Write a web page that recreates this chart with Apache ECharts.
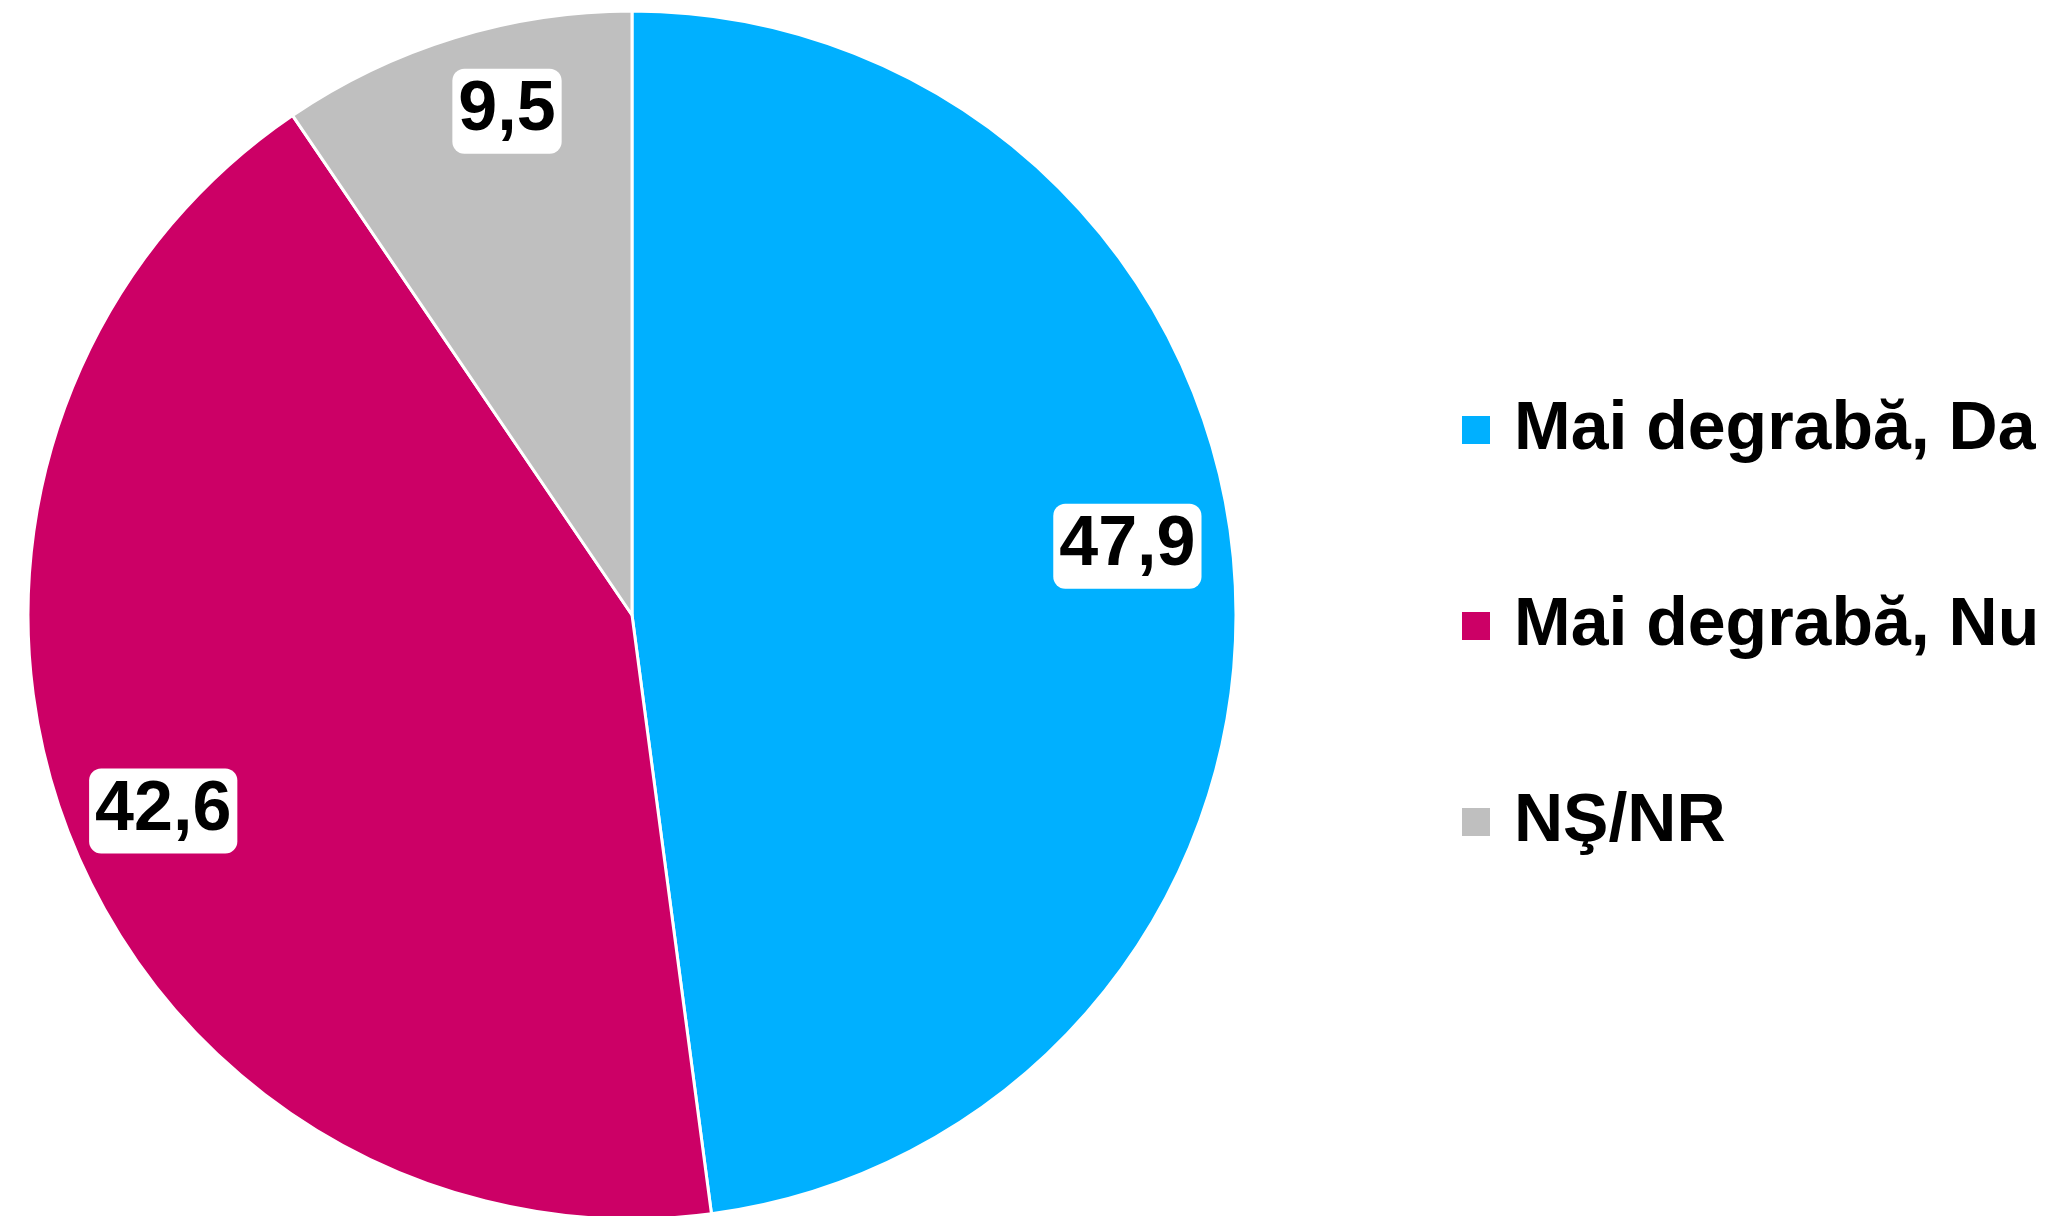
<!DOCTYPE html>
<html>
<head>
<meta charset="utf-8">
<script src="https://cdn.jsdelivr.net/npm/echarts@6/dist/echarts.min.js"></script>
<style>
  html, body { margin: 0; padding: 0; background: #fff; }
  #chart { width: 2056px; height: 1216px; }
</style>
</head>
<body>
<div id="chart"></div>
<script>
// Chart data
var categories = ['Mai degrabă, Da', 'Mai degrabă, Nu', 'NŞ/NR'];
var values = [47.9, 42.6, 9.5];
var colors = ['#00B0FF', '#CC0066', '#BFBFBF'];

// small nudges of the value labels, as placed in the original
var labelNudge = [[-17, -35], [11, 13], [26, -13]];

var chart = echarts.init(document.getElementById('chart'));

var pieData = [];
var labelData = [];
for (var i = 0; i < categories.length; i++) {
    pieData.push({ name: categories[i], value: values[i] });
    labelData.push({
        name: categories[i],
        value: values[i],
        label: { offset: labelNudge[i] }
    });
}

function fmt(p) {
    return String(p.value).replace('.', ',');
}

chart.setOption({
    color: colors,
    animation: false,
    textStyle: {
        fontFamily: '"Liberation Sans", Arial, sans-serif'
    },

    // Legend on the right
    legend: {
        orient: 'vertical',
        left: 1455,
        top: 387,
        icon: 'rect',
        itemWidth: 30,
        itemHeight: 30,
        itemGap: 120,
        data: categories,
        textStyle: {
            color: '#000',
            fontSize: 68,
            fontWeight: 'bold',
            lineHeight: 76,
            padding: [0, 0, 0, 18],
            fontFamily: '"Liberation Sans", Arial, sans-serif'
        }
    },

    series: [
        {
            // slices
            type: 'pie',
            center: [632, 615],
            radius: [0, 604],
            startAngle: 90,
            clockwise: true,
            silent: true,
            itemStyle: {
                borderColor: '#fff',
                borderWidth: 3
            },
            label: { show: false },
            labelLine: { show: false },
            data: pieData
        },
        {
            // value labels
            type: 'pie',
            center: [632, 615],
            radius: [420, 601],
            startAngle: 90,
            clockwise: true,
            silent: true,
            legendHoverLink: false,
            itemStyle: { color: 'transparent', borderWidth: 0 },
            label: {
                show: true,
                position: 'inside',
                formatter: fmt,
                color: '#000',
                fontSize: 70,
                fontWeight: 'bold',
                fontFamily: '"Liberation Sans", Arial, sans-serif',
                backgroundColor: '#fff',
                borderRadius: 12,
                padding: [10, 6, 5, 6]
            },
            labelLine: { show: false },
            data: labelData
        }
    ]
});
</script>
</body>
</html>
